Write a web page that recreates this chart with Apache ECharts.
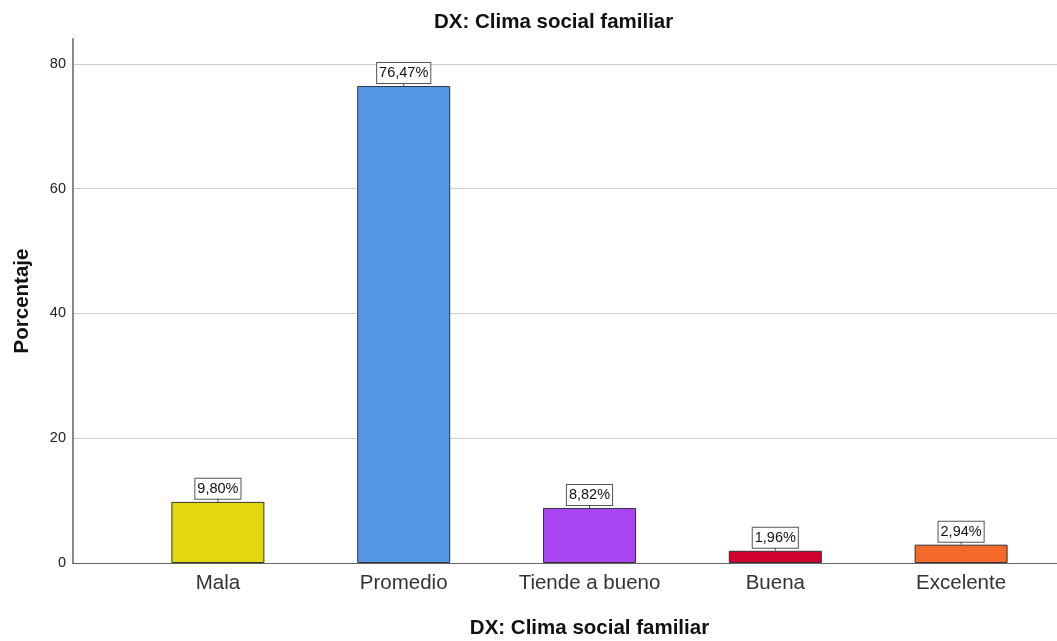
<!DOCTYPE html>
<html>
<head>
<meta charset="utf-8">
<script src="https://cdn.jsdelivr.net/npm/echarts@6/dist/echarts.min.js"></script>
<style>html,body{margin:0;padding:0;background:#fff}#c{width:1057px;height:641px}</style>
</head>
<body>
<div id="c"></div>
<script>
var categories = ['Mala', 'Promedio', 'Tiende a bueno', 'Buena', 'Excelente'];
var values = [9.80, 76.47, 8.82, 1.96, 2.94];
var colors = ['#E3D70F', '#5596E6', '#A745F0', '#D1002F', '#F2692A'];
var yTicks = [0, 20, 40, 60, 80];

var font = 'Liberation Sans, Arial, sans-serif';
var chart = echarts.init(document.getElementById('c'), null, {renderer: 'canvas'});
var option = {
  animation: false,
  backgroundColor: '#fff',
  title: {
    text: 'DX: Clima social familiar',
    left: 429, top: 7,
    textStyle: {fontFamily: font, fontSize: 20.5, fontWeight: 'bold', color: '#111'}
  },
  grid: [
    {left: 73, right: 0, top: 39, bottom: 78, containLabel: false, outerBoundsMode: 'none'},
    {left: 125, right: 3, top: 39, bottom: 78, containLabel: false, outerBoundsMode: 'none'}
  ],
  xAxis: [
    {type: 'value', gridIndex: 0, min: 0, max: 1,
     axisLine: {show: true, lineStyle: {color: '#666', width: 1}},
     axisTick: {show: false}, axisLabel: {show: false}, splitLine: {show: false}},
    {type: 'category', gridIndex: 1, data: categories,
     axisLine: {show: false}, axisTick: {show: false},
     axisLabel: {fontFamily: font, fontSize: 20.5, color: '#333', margin: 10},
     name: 'DX: Clima social familiar', nameLocation: 'middle', nameGap: 55,
     nameTextStyle: {fontFamily: font, fontSize: 20.5, fontWeight: 'bold', color: '#111'}}
  ],
  yAxis: [
    {type: 'value', gridIndex: 0, min: 0, max: 84, interval: 20,
     axisLine: {show: true, lineStyle: {color: '#888', width: 2}},
     axisTick: {show: false},
     axisLabel: {fontFamily: font, fontSize: 14.5, color: '#222', margin: 7,
       showMaxLabel: false,
       formatter: function (v) { return yTicks.indexOf(v) >= 0 ? String(v) : ''; }},
     splitLine: {show: true, showMaxLine: false, lineStyle: {color: '#cfcfcf', width: 1}},
     name: 'Porcentaje', nameLocation: 'middle', nameGap: 40, nameRotate: 90,
     nameTextStyle: {fontFamily: font, fontSize: 20.5, fontWeight: 'bold', color: '#111'}},
    {type: 'value', gridIndex: 1, min: 0, max: 84, show: false, splitLine: {show: false}}
  ],
  series: [
    {
      type: 'bar', xAxisIndex: 1, yAxisIndex: 1, barWidth: 93,
      data: values.map(function (v, i) {
        return {value: v, itemStyle: {color: colors[i]}};
      }),
      itemStyle: {borderColor: '#333', borderWidth: 1},
      label: {
        show: true, position: 'top', distance: 3,
        formatter: function (p) { return p.value.toFixed(2).replace('.', ',') + '%'; },
        fontFamily: font, fontSize: 14.5, color: '#111',
        backgroundColor: '#fff', borderColor: '#555', borderWidth: 1,
        padding: [3, 2, 2, 2]
      },
      z: 3
    },
    {
      type: 'custom', xAxisIndex: 1, yAxisIndex: 1, z: 4, silent: true,
      data: values.map(function (v, i) { return [i, v]; }),
      renderItem: function (params, api) {
        var p = api.coord([api.value(0), api.value(1)]);
        return {type: 'line', shape: {x1: p[0], y1: p[1], x2: p[0], y2: p[1] - 3},
                style: {stroke: '#555', lineWidth: 1}};
      }
    }
  ]
};
chart.setOption(option);
</script>
</body>
</html>
